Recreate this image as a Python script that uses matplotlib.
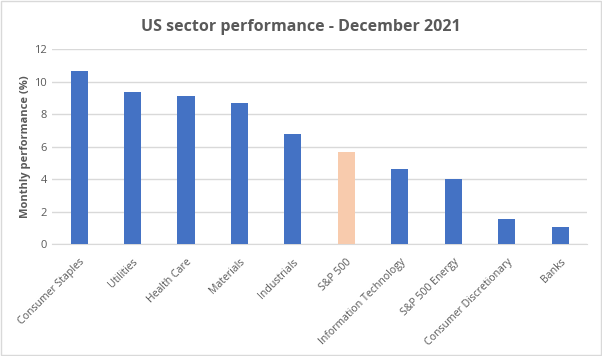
import matplotlib.pyplot as plt
from matplotlib.patches import Rectangle

sectors = ['Consumer Staples', 'Utilities', 'Health Care', 'Materials', 'Industrials',
           'S&P 500', 'Information Technology', 'S&P 500 Energy',
           'Consumer Discretionary', 'Banks']
performance = [10.65, 9.35, 9.1, 8.7, 6.8, 5.7, 4.62, 4.0, 1.55, 1.05]
highlight = 'S&P 500'

blue = '#4472C4'
peach = '#F8CBAD'
text_gray = '#595959'

plt.rcParams['font.family'] = ['Open Sans', 'DejaVu Sans']

fig = plt.figure(figsize=(6.02, 3.56), dpi=100)
ax = fig.add_axes([0.087, 0.3146, 0.888, 0.547])

colors = [peach if s == highlight else blue for s in sectors]
x = range(len(sectors))
ax.bar(x, performance, width=0.32, color=colors, zorder=3)

ax.set_xlim(-0.5, len(sectors) - 0.5)
ax.set_ylim(0, 12)
ax.set_yticks(range(0, 13, 2))
ax.set_xticks(list(x))
ax.set_xticklabels(sectors, rotation=45, ha='right', rotation_mode='anchor',
                   fontsize=7.6, color=text_gray)
ax.tick_params(axis='y', labelsize=8, labelcolor=text_gray, length=0, pad=4)
ax.tick_params(axis='x', length=0, pad=9)
ax.grid(axis='y', color='#D9D9D9', linewidth=1, zorder=0)
for side in ['top', 'right', 'left']:
    ax.spines[side].set_visible(False)
ax.spines['bottom'].set_color('#D9D9D9')

ax.set_ylabel('Monthly performance (%)', fontsize=8, fontweight='bold',
              color=text_gray, labelpad=2)
fig.text(0.5, 0.924, 'US sector performance - December 2021', ha='center',
         va='center', fontsize=11.5, fontweight='bold', color=text_gray)

fig.patches.append(Rectangle((0.001, 0.002), 0.997, 0.995, transform=fig.transFigure,
                             fill=False, edgecolor='#D9D9D9', linewidth=1))

fig.savefig('out.png', dpi=100)
